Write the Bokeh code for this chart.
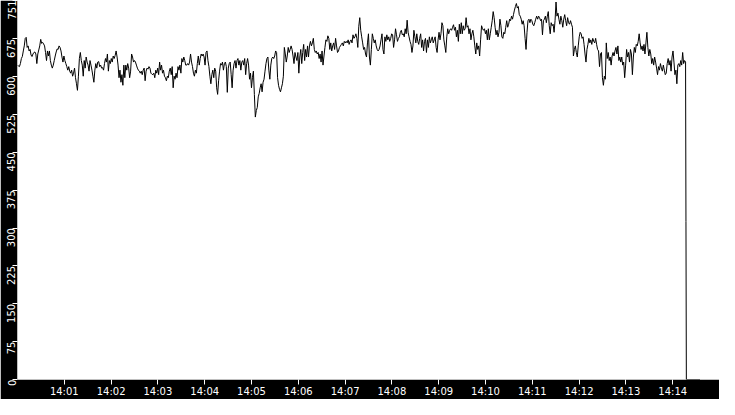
import math
import pandas as pd
from bokeh.plotting import figure
from bokeh.models import ColumnDataSource, Range1d, FixedTicker, DatetimeTickFormatter
from bokeh.embed import file_html
from bokeh.resources import INLINE

# samples, left to right (evenly spaced in time)
part_a = [623, 621, 620, 626, 636, 640, 651, 661, 676, 678,
          658, 661, 651, 654, 643, 640, 645, 648, 649, 645,
          626, 645, 653, 661, 674, 666, 668, 665, 661, 648,
          632, 651, 641, 651, 632, 623, 617, 623, 632, 641,
          649, 655, 654, 661, 658, 651, 639, 629, 641, 632,
          626, 620, 613, 620, 611, 607, 613, 601, 607, 617,
          598, 586, 573, 601, 636, 648, 632, 623, 601, 632,
          617, 639, 629, 623, 611, 632, 623, 613, 601, 589,
          613, 626, 617, 629, 630, 620, 623, 617, 618, 613]
part_b = [626, 636, 629, 645, 611, 632, 626, 636, 629, 641,
          636, 642, 651, 639, 623, 598, 613, 589, 604, 583,
          623, 598, 623, 613, 626, 617, 598, 611, 645, 639,
          629, 632, 629, 623, 617, 613, 611, 607, 611, 604,
          613, 617, 592, 611, 617, 615, 620, 617, 607, 605,
          604, 607, 598, 613, 607, 617, 604, 629, 613, 623,
          607, 613, 601, 598, 592, 601, 598, 611, 617, 604,
          620, 578, 601, 595, 607, 598, 620, 613, 623, 607,
          636, 629, 639, 632, 623]
part_c = [623, 626, 623, 629, 645, 629, 620, 607, 601, 613,
          607, 626, 641, 623, 636, 645, 641, 645, 639, 623,
          648, 651, 632, 620, 601, 586, 604, 613, 598, 617,
          611, 578, 565, 592, 611, 626, 623, 629, 613, 626,
          629, 620, 569, 617, 626, 629, 604, 578, 613, 626,
          632, 617, 632, 636, 623, 632, 613, 629, 632, 623,
          636, 604, 626, 636, 623, 595, 607, 578, 598, 611,
          565, 520, 533, 539, 560, 567, 578, 586, 570, 589,
          595, 611, 626, 636, 639, 613]
part_d = [595, 623, 636, 639, 636, 641, 651, 648, 598, 583,
          575, 570, 578, 586, 601, 658, 645, 629, 641, 658,
          648, 654, 661, 654, 641, 626, 648, 639, 632, 648,
          607, 639, 654, 626, 648, 664, 632, 654, 639, 661,
          639, 661, 670, 661, 667, 676, 654, 648, 651, 645,
          648, 636, 645, 629, 651, 623, 641, 658, 673, 670,
          681, 676, 654, 667, 651, 661, 667, 654, 676, 661,
          648, 651, 658, 661, 664, 667, 661, 670, 667, 670,
          667, 673, 664, 670, 673, 667]
part_e = [683, 676, 679, 685, 676, 658, 700, 717, 692, 679,
          667, 654, 658, 645, 639, 667, 685, 639, 623, 654,
          685, 676, 667, 673, 661, 654, 651, 654, 661, 673,
          685, 654, 645, 679, 670, 683, 673, 679, 670, 676,
          685, 683, 658, 673, 695, 683, 670, 676, 679, 688,
          692, 683, 685, 679, 695, 685, 712, 688, 679, 670,
          664, 648, 661, 692, 679, 667, 685, 670, 664, 676,
          685, 658, 673, 651, 670, 676, 648, 673, 658, 679,
          667, 673, 679, 667, 673, 679, 658]
part_f = [648, 673, 688, 673, 685, 707, 701, 673, 661, 648,
          679, 695, 685, 692, 695, 692, 698, 703, 692, 698,
          679, 692, 670, 704, 685, 707, 685, 701, 692, 695,
          717, 698, 701, 685, 695, 673, 685, 692, 679, 661,
          645, 667, 654, 661, 641, 673, 701, 695, 692, 695,
          685, 692, 673, 695, 673, 685, 698, 711, 729, 717,
          698, 683, 692, 679, 688, 714, 701, 679, 676, 688,
          685, 698, 711, 698, 704, 714, 711, 720, 714, 723,
          732, 739, 745, 736, 739]
part_g = [723, 720, 714, 704, 711, 701, 676, 654, 688, 711,
          714, 707, 714, 711, 704, 701, 707, 714, 720, 714,
          720, 717, 711, 714, 683, 711, 714, 720, 707, 720,
          729, 701, 685, 707, 701, 704, 688, 711, 748, 720,
          726, 714, 704, 720, 711, 698, 714, 723, 711, 701,
          717, 707, 704, 711, 704, 698, 641, 654, 661, 648,
          639, 661, 679, 688, 685, 676, 679, 664, 645, 629,
          654, 664, 676, 667, 673, 664, 676, 670, 667, 676,
          664, 654, 651, 620, 645]
part_h = [648, 598, 583, 601, 595, 667, 636, 648, 632, 639,
          623, 641, 648, 641, 651, 658, 645, 661, 632, 639,
          629, 639, 623, 629, 598, 623, 654, 639, 648, 629,
          654, 645, 604, 639, 658, 648, 664, 661, 670, 685,
          667, 654, 661, 651, 664, 645, 667, 688, 658, 641,
          654, 645, 626, 636, 623, 639, 629, 617, 604, 620,
          613, 626, 617, 611, 623, 613, 604, 607, 626, 636,
          623, 632, 611, 639, 651, 629, 604, 613, 586, 623,
          626, 620, 632, 623, 648, 626, 632, 629]

# the feed stops: drop to zero
tail_seconds = [857.0, 857.5, 875.0]
tail_values = [313, 0, 0]

start = pd.Timestamp("2024-01-01 14:00:00")
end = pd.Timestamp("2024-01-01 14:15:00")
last_sample_s = 856.5

y_ticks = [0, 75, 150, 225, 300, 375, 450, 525, 600, 675, 751]
x_tick_minutes = list(range(1, 15))

values = part_a + part_b + part_c + part_d + part_e + part_f + part_g + part_h
step = last_sample_s / (len(values) - 1)
times = [start + pd.Timedelta(seconds=i * step) for i in range(len(values))]
times += [start + pd.Timedelta(seconds=s) for s in tail_seconds]
values = values + tail_values

source = ColumnDataSource(data=dict(t=times, v=values))

p = figure(
    width=719, height=399,
    x_axis_type="datetime",
    x_range=Range1d(start, end),
    y_range=Range1d(0, 751),
    output_backend="svg",
    toolbar_location=None,
    min_border=0,
)
p.background_fill_color = "white"
p.border_fill_color = "black"
p.outline_line_color = None
p.xgrid.visible = False
p.ygrid.visible = False

p.line('t', 'v', source=source, color="black", line_width=1)

def ms(ts):
    return ts.value // 10**6

p.xaxis.ticker = FixedTicker(ticks=[ms(start + pd.Timedelta(minutes=m)) for m in x_tick_minutes])
p.xaxis.formatter = DatetimeTickFormatter(minutes="%H:%M", hours="%H:%M", days="%H:%M")
p.yaxis.ticker = FixedTicker(ticks=y_ticks)
p.yaxis.major_label_orientation = math.pi / 2

for ax in (p.xaxis, p.yaxis):
    ax.axis_line_color = None
    ax.major_tick_line_color = "white"
    ax.major_tick_in = 0
    ax.major_tick_out = 5
    ax.minor_tick_line_color = None
    ax.major_label_text_color = "white"
    ax.major_label_text_font = "DejaVu Sans"
    ax.major_label_text_font_size = "10px"
    ax.major_label_standoff = 1

open("out.html", "w").write(file_html(p, INLINE))
